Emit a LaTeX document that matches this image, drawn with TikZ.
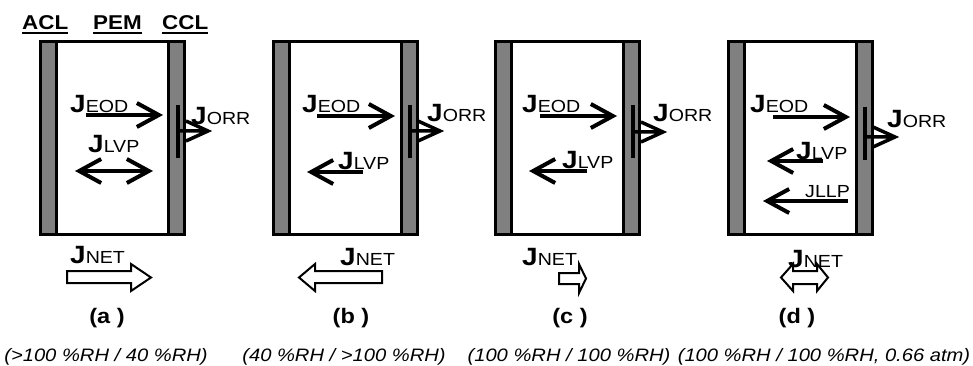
\documentclass[tikz,border=0pt]{standalone}
\usepackage{fontspec}
\setmainfont[FakeStretch=1.12]{Liberation Sans}
\usetikzlibrary{arrows.meta}

\newcommand\hdrfont{\fontsize{20}{20}\selectfont\bfseries}
\newcommand\subfont{\fontsize{17.5}{17.5}\selectfont}
\newcommand\tagfont{\fontsize{21}{21}\selectfont\bfseries}
\newcommand\capfont{\fontsize{18}{18}\selectfont\itshape}
\newcommand\flux[1]{{\fontsize{25}{25}\selectfont\bfseries J}{\subfont #1}}

\begin{document}
\begin{tikzpicture}[x=1pt,y=-1pt,>={Straight Barb[length=22pt,width=24pt]},
  lbl/.style={inner sep=0pt,anchor=base west},
  tag/.style={inner sep=0pt,anchor=base,font=\tagfont},
  cond/.style={inner sep=0pt,anchor=base,font=\capfont},
  flow/.style={line width=4pt,->},
  orr/.style={line width=3.5pt,line join=miter},
  net/.style={draw,line width=2pt,fill=white,line join=miter},
  wall/.style={line width=3.5pt}]
\useasboundingbox (0,0) rectangle (973,366);

% cells
\foreach \x in {40.5,273.5,495.5,728.5}{
  \fill[gray] (\x,41.5) rectangle (\x+16,234.5);
  \fill[gray] (\x+128,41.5) rectangle (\x+144,234.5);
  \draw[wall] (\x,41.5) rectangle (\x+144,234.5);
  \draw[wall] (\x+16,41.5) -- (\x+16,234.5);
  \draw[wall] (\x+128,41.5) -- (\x+128,234.5);
}

% layer names
\node[lbl,font=\hdrfont] (acl) at (22,30) {ACL};
\node[lbl,font=\hdrfont] (pem) at (93,30) {PEM};
\node[lbl,font=\hdrfont] (ccl) at (162,30) {CCL};
\foreach \n in {acl,pem,ccl}
  \draw[line width=2pt] ([yshift=-3pt]\n.south west) -- ([yshift=-3pt]\n.south east);

% (a)
\node[lbl] (eodA) at (70,113) {\flux{EOD}};
\draw[flow] (86,115) -- (163,115);
\draw[line width=4pt] (178,105) -- (178,158);
\draw[orr] (178,131) -- ++(30,0) ++(-22,-10) -- ++(22,10) -- ++(-22,10);
\node[lbl] (orrA) at (191,125) {\flux{ORR}};
\node[lbl] (lvpA) at (88,153) {\flux{LVP}};
\draw[flow,<->] (75,171) -- (153,171);
\draw[net] (67,271) -- (131,271) -- (131,264) -- (151,277.5) -- (131,291) -- (131,283) -- (67,283) -- cycle;
\node[lbl] (netA) at (70,263) {\flux{NET}};
\node[tag] (tagA) at (107,323) {(a )};
\node[cond] (condA) at (106,361) {(>100 \%RH / 40 \%RH)};

% (b)
\node[lbl] (eodB) at (302,113) {\flux{EOD}};
\draw[flow] (317,116) -- (395,116);
\draw[line width=4pt] (410,105) -- (410,158);
\draw[orr] (410,131) -- ++(30,0) ++(-22,-10) -- ++(22,10) -- ++(-22,10);
\node[lbl] (orrB) at (427,122) {\flux{ORR}};
\node[lbl] (lvpB) at (338,170) {\flux{LVP}};
\draw[flow] (363,172) -- (307,172);
\draw[net] (382,271) -- (315,271) -- (315,264) -- (299,277.5) -- (315,291) -- (315,283) -- (382,283) -- cycle;
\node[lbl] (netB) at (340,265) {\flux{NET}};
\node[tag] (tagB) at (351,323) {(b )};
\node[cond] (condB) at (344,361) {(40 \%RH / >100 \%RH)};

% (c)
\node[lbl] (eodC) at (522,113) {\flux{EOD}};
\draw[flow] (540,116) -- (617,116);
\draw[line width=4pt] (633,105) -- (633,158);
\draw[orr] (633,132) -- ++(30,0) ++(-22,-10) -- ++(22,10) -- ++(-22,10);
\node[lbl] (orrC) at (653,122) {\flux{ORR}};
\node[lbl] (lvpC) at (562,168) {\flux{LVP}};
\draw[flow] (587,171) -- (529,171);
\draw[net] (559,273) -- (579,273) -- (579,264) -- (586,278.5) -- (579,293) -- (579,284) -- (559,284) -- cycle;
\node[lbl] (netC) at (522,265) {\flux{NET}};
\node[tag] (tagC) at (570,323) {(c )};
\node[cond] (condC) at (569,361) {(100 \%RH / 100 \%RH)};

% (d)
\node[lbl] (eodD) at (750,113) {\flux{EOD}};
\draw[flow] (773,117) -- (850,117);
\draw[line width=4pt] (865,107) -- (865,160);
\draw[orr] (865,137) -- ++(30,0) ++(-22,-10) -- ++(22,10) -- ++(-22,10);
\node[lbl] (orrD) at (887,128) {\flux{ORR}};
\node[lbl] (lvpD) at (796,160) {\flux{LVP}};
\draw[flow] (823,161) -- (767,161);
\node[lbl,font=\subfont] (llpD) at (805,197) {JLLP};
\draw[flow] (848,201) -- (763,201);
\draw[net] (793,271) -- (817,271) -- (817,264) -- (828,277.5) -- (817,291) -- (817,284)
  -- (793,284) -- (793,291) -- (781,277.5) -- (793,264) -- cycle;
\node[lbl] (netD) at (788,267) {\flux{NET}};
\node[tag] (tagD) at (797,323) {(d )};
\node[cond] (condD) at (824,361) {(100 \%RH / 100 \%RH, 0.66 atm)};
\end{tikzpicture}
\end{document}
